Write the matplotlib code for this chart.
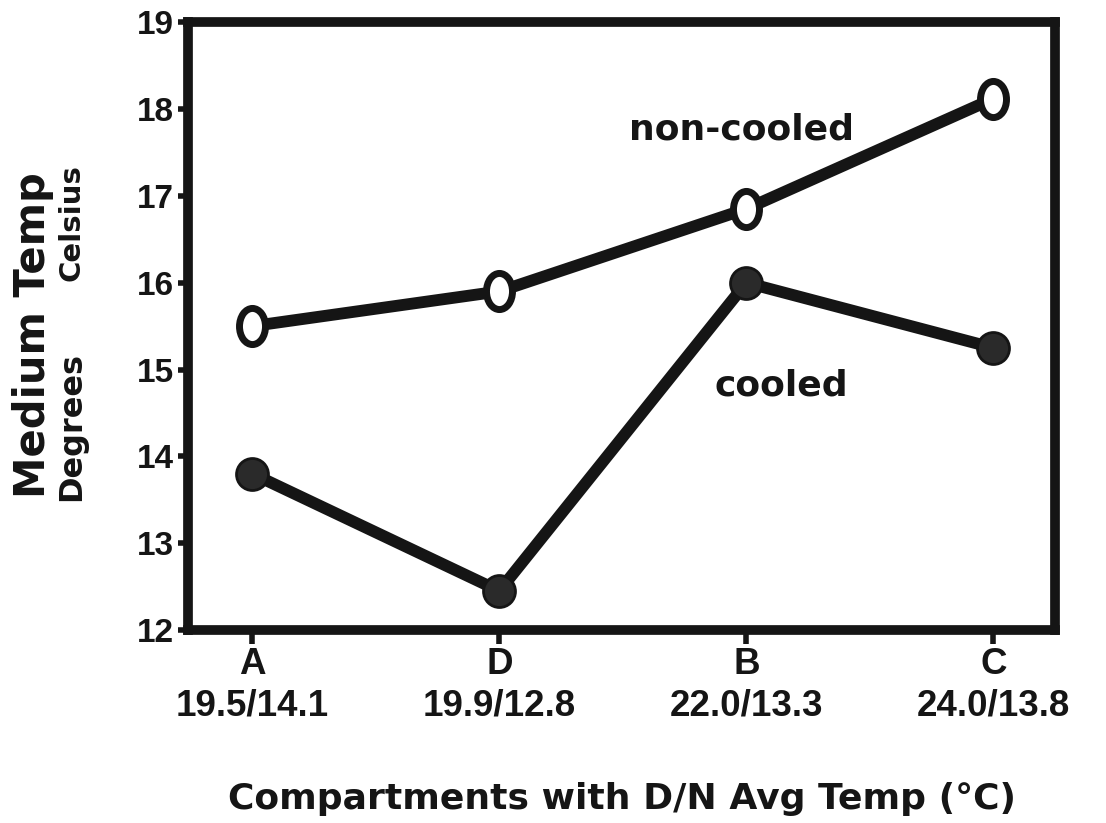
import matplotlib
matplotlib.use("Agg")
import matplotlib.pyplot as plt
from matplotlib.path import Path
from matplotlib.transforms import Affine2D

compartments = ["A", "D", "B", "C"]
dn_avg_temp = ["19.5/14.1", "19.9/12.8", "22.0/13.3", "24.0/13.8"]
non_cooled = [15.5, 15.9, 16.85, 18.12]
cooled = [13.8, 12.45, 16.0, 15.25]
y_ticks = [12, 13, 14, 15, 16, 17, 18, 19]

plt.rcParams['font.family'] = ['DejaVu Sans']
ink = "#151515"
narrow = ['Liberation Sans', 'DejaVu Sans']

fig = plt.figure(figsize=(11.06, 8.23), dpi=100)
ax = fig.add_axes([0.170, 0.2345, 0.784, 0.7385])

xs = list(range(len(compartments)))
oval = Path.unit_circle().transformed(Affine2D().scale(0.72, 1.0))

ax.plot(xs, non_cooled, color=ink, lw=8.5, marker=oval, markersize=26,
        markerfacecolor="white", markeredgecolor=ink, markeredgewidth=5,
        solid_capstyle="round", zorder=3)
ax.plot(xs, cooled, color=ink, lw=8.5, marker="o", markersize=23,
        markerfacecolor="#2a2a2a", markeredgecolor=ink, markeredgewidth=2,
        solid_capstyle="round", zorder=3)

ax.text(1.98, 17.76, "non-cooled", ha="center", va="center",
        fontsize=26, fontweight="bold", color=ink)
ax.text(2.14, 14.82, "cooled", ha="center", va="center",
        fontsize=26, fontweight="bold", color=ink)

ax.set_xlim(-0.26, 3.25)
ax.set_ylim(12, 19)
ax.set_yticks(y_ticks)
ax.set_yticklabels([str(v) for v in y_ticks], fontsize=24, fontweight="bold",
                   color=ink, family=narrow)
ax.set_xticks(xs)
ax.set_xticklabels([f"{c}\n{t}" for c, t in zip(compartments, dn_avg_temp)],
                   fontsize=26.5, fontweight="bold", color=ink, linespacing=1.25,
                   family=narrow)

for s in ax.spines.values():
    s.set_linewidth(7)
    s.set_color(ink)
ax.tick_params(axis="y", direction="out", length=7, width=4, pad=3, color=ink)
ax.tick_params(axis="x", direction="out", length=10, width=4, pad=2, color=ink)

ax.set_xlabel("Compartments with D/N Avg Temp (°C)",
              fontsize=26, fontweight="bold", color=ink, labelpad=42)

fig.text(0.030, 0.593, "Medium Temp", rotation=90, ha="center", va="center",
         fontsize=30, fontweight="bold", color=ink)
fig.text(0.065, 0.730, "Celsius", rotation=90, ha="center", va="center",
         fontsize=21, fontweight="bold", color=ink)
fig.text(0.065, 0.482, "Degrees", rotation=90, ha="center", va="center",
         fontsize=23, fontweight="bold", color=ink)

fig.savefig("out.png", dpi=100, facecolor="white")
